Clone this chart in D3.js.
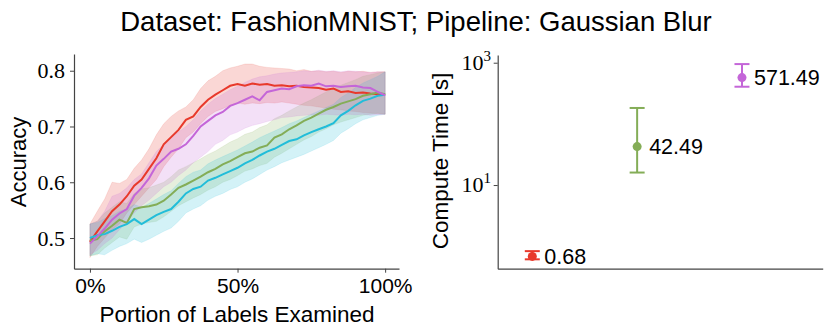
<!DOCTYPE html>
<html lang="en">
  <head>
    <meta charset="UTF-8" />
    <title>FashionMNIST - Gaussian Blur</title>
    <script src="https://d3js.org/d3.v7.min.js"></script>
    <style>
      * {
        margin: 0;
        padding: 0;
      }
      body {
        background: #fff;
      }
      .domain {
        stroke: #444;
        stroke-width: 1.2;
      }
      .tick line {
        stroke: #444;
        stroke-width: 1;
      }
    </style>
  </head>
  <body>
    <div id="svgContainer"></div>
    <script>
      // x positions (portion of labels examined)
      const portion = d3.range(41).map((i) => i * 0.025);

      // mean accuracy per method
      const redMean = [0.493, 0.512, 0.53, 0.548, 0.56, 0.575, 0.594, 0.605, 0.624, 0.643, 0.668, 0.681, 0.694, 0.712, 0.718, 0.735, 0.748, 0.757, 0.765, 0.773, 0.776, 0.773, 0.777, 0.775, 0.776, 0.773, 0.774, 0.772, 0.773, 0.771, 0.77, 0.769, 0.766, 0.768, 0.762, 0.763, 0.76, 0.761, 0.759, 0.758, 0.757];
      const redHi = [0.525, 0.548, 0.57, 0.6, 0.598, 0.605, 0.625, 0.64, 0.66, 0.685, 0.705, 0.718, 0.728, 0.735, 0.748, 0.768, 0.782, 0.79, 0.8, 0.805, 0.808, 0.812, 0.812, 0.808, 0.806, 0.805, 0.804, 0.803, 0.8, 0.802, 0.799, 0.8, 0.798, 0.799, 0.797, 0.799, 0.798, 0.799, 0.797, 0.798, 0.798];
      const redLo = [0.465, 0.485, 0.5, 0.515, 0.525, 0.545, 0.56, 0.575, 0.59, 0.605, 0.628, 0.645, 0.66, 0.68, 0.69, 0.705, 0.718, 0.727, 0.732, 0.738, 0.742, 0.74, 0.742, 0.741, 0.743, 0.742, 0.744, 0.742, 0.74, 0.738, 0.737, 0.735, 0.733, 0.731, 0.73, 0.728, 0.727, 0.725, 0.724, 0.723, 0.722];

      const purpleMean = [0.49, 0.503, 0.517, 0.533, 0.544, 0.552, 0.576, 0.59, 0.607, 0.63, 0.642, 0.655, 0.66, 0.668, 0.683, 0.7, 0.71, 0.72, 0.726, 0.737, 0.742, 0.748, 0.754, 0.747, 0.762, 0.765, 0.768, 0.767, 0.772, 0.774, 0.773, 0.777, 0.772, 0.773, 0.771, 0.772, 0.773, 0.77, 0.769, 0.762, 0.756];
      const purpleHi = [0.525, 0.53, 0.548, 0.575, 0.58, 0.59, 0.605, 0.615, 0.635, 0.655, 0.668, 0.682, 0.69, 0.7, 0.712, 0.728, 0.74, 0.75, 0.758, 0.766, 0.772, 0.779, 0.785, 0.789, 0.791, 0.794, 0.796, 0.797, 0.798, 0.8, 0.799, 0.801, 0.799, 0.8, 0.798, 0.8, 0.799, 0.798, 0.797, 0.798, 0.798];
      const purpleLo = [0.47, 0.478, 0.49, 0.5, 0.515, 0.53, 0.545, 0.558, 0.568, 0.58, 0.592, 0.6, 0.612, 0.622, 0.635, 0.645, 0.655, 0.668, 0.675, 0.685, 0.69, 0.697, 0.702, 0.705, 0.709, 0.712, 0.716, 0.717, 0.719, 0.72, 0.721, 0.72, 0.722, 0.721, 0.72, 0.722, 0.721, 0.722, 0.72, 0.721, 0.722];

      const greenMean = [0.495, 0.498, 0.512, 0.522, 0.533, 0.527, 0.552, 0.555, 0.557, 0.56, 0.567, 0.578, 0.59, 0.596, 0.603, 0.61, 0.618, 0.624, 0.632, 0.638, 0.645, 0.652, 0.655, 0.662, 0.666, 0.68, 0.686, 0.695, 0.702, 0.71, 0.716, 0.723, 0.73, 0.735, 0.741, 0.745, 0.749, 0.755, 0.758, 0.761, 0.758];
      const greenHi = [0.525, 0.53, 0.545, 0.555, 0.565, 0.562, 0.58, 0.588, 0.59, 0.595, 0.6, 0.61, 0.622, 0.628, 0.635, 0.642, 0.65, 0.656, 0.664, 0.672, 0.678, 0.686, 0.69, 0.698, 0.703, 0.714, 0.72, 0.728, 0.735, 0.742, 0.748, 0.755, 0.762, 0.768, 0.774, 0.779, 0.784, 0.79, 0.793, 0.796, 0.798];
      const greenLo = [0.468, 0.47, 0.482, 0.492, 0.502, 0.498, 0.52, 0.525, 0.528, 0.53, 0.538, 0.548, 0.558, 0.565, 0.572, 0.578, 0.586, 0.592, 0.6, 0.605, 0.612, 0.62, 0.624, 0.63, 0.634, 0.645, 0.652, 0.66, 0.668, 0.676, 0.682, 0.69, 0.696, 0.703, 0.708, 0.712, 0.716, 0.72, 0.722, 0.724, 0.722];

      const cyanMean = [0.5, 0.505, 0.507, 0.513, 0.52, 0.525, 0.534, 0.525, 0.533, 0.541, 0.547, 0.552, 0.565, 0.58, 0.588, 0.592, 0.603, 0.608, 0.614, 0.62, 0.626, 0.634, 0.64, 0.648, 0.655, 0.66, 0.667, 0.674, 0.677, 0.684, 0.69, 0.695, 0.7, 0.706, 0.72, 0.728, 0.738, 0.746, 0.75, 0.755, 0.757];
      const cyanHi = [0.525, 0.528, 0.535, 0.54, 0.548, 0.552, 0.56, 0.555, 0.562, 0.57, 0.578, 0.585, 0.598, 0.61, 0.618, 0.622, 0.633, 0.64, 0.646, 0.652, 0.658, 0.665, 0.672, 0.68, 0.686, 0.692, 0.698, 0.705, 0.71, 0.716, 0.722, 0.728, 0.734, 0.74, 0.752, 0.76, 0.77, 0.778, 0.784, 0.79, 0.798];
      const cyanLo = [0.468, 0.472, 0.47, 0.478, 0.485, 0.49, 0.498, 0.492, 0.498, 0.505, 0.512, 0.518, 0.53, 0.545, 0.552, 0.558, 0.568, 0.575, 0.58, 0.587, 0.592, 0.6, 0.606, 0.614, 0.622, 0.628, 0.635, 0.64, 0.645, 0.65, 0.656, 0.662, 0.668, 0.675, 0.688, 0.696, 0.705, 0.712, 0.716, 0.72, 0.722];

      // compute time (seconds) for three methods
      const timeMethods = ["red", "green", "purple"];
      const timeMean = [0.68, 42.49, 571.49];
      const timeLo = [0.61, 16, 405];
      const timeHi = [0.83, 182, 950];

      const xTicks = [0, 0.5, 1];
      const xTickLabels = ["0%", "50%", "100%"];
      const yTicks = [0.5, 0.6, 0.7, 0.8];
      const logTicks = [10, 1000];

      const colors = {
        red: "#e8392b",
        purple: "#c466d8",
        green: "#84ad57",
        cyan: "#22bdd9",
      };

      const series = [
        { key: "red", mean: redMean, lo: redLo, hi: redHi },
        { key: "green", mean: greenMean, lo: greenLo, hi: greenHi },
        { key: "cyan", mean: cyanMean, lo: cyanLo, hi: cyanHi },
        { key: "purple", mean: purpleMean, lo: purpleLo, hi: purpleHi },
      ];

      const width = 831;
      const height = 336;
      const sansFont = "'Liberation Sans', Arial, sans-serif";
      const serifFont = "'Liberation Serif', 'DejaVu Serif', serif";

      let svg = d3
        .select("#svgContainer")
        .append("svg")
        .attr("width", width)
        .attr("height", height);

      // title
      svg
        .append("text")
        .attr("x", 416)
        .attr("y", 31)
        .attr("text-anchor", "middle")
        .style("font-family", sansFont)
        .style("font-size", "27.5px")
        .text("Dataset: FashionMNIST; Pipeline: Gaussian Blur");

      /* ---------- left panel: accuracy curves ---------- */
      const xScale = d3.scaleLinear().domain([-0.054, 1.047]).range([74, 399]);
      const yScale = d3.scaleLinear().domain([0.445, 0.83]).range([268.7, 54]);

      let left = svg.append("g");

      const area = d3
        .area()
        .x((d) => xScale(d.t))
        .y0((d) => yScale(d.lo))
        .y1((d) => yScale(d.hi));

      const line = d3
        .line()
        .x((d) => xScale(d.t))
        .y((d) => yScale(d.m));

      series.forEach((s) => {
        let pts = portion.map((t, i) => ({
          t: t,
          m: s.mean[i],
          lo: s.lo[i],
          hi: s.hi[i],
        }));
        left
          .append("path")
          .datum(pts)
          .attr("d", area)
          .attr("fill", colors[s.key])
          .attr("fill-opacity", 0.2)
          .attr("stroke", colors[s.key])
          .attr("stroke-opacity", 0.15)
          .attr("stroke-width", 0.8);
      });
      series.forEach((s) => {
        let pts = portion.map((t, i) => ({ t: t, m: s.mean[i] }));
        left
          .append("path")
          .datum(pts)
          .attr("d", line)
          .attr("fill", "none")
          .attr("stroke", colors[s.key])
          .attr("stroke-width", 2);
      });

      let xAxisG = left
        .append("g")
        .attr("transform", "translate(0,268.7)")
        .call(
          d3
            .axisBottom(xScale)
            .tickValues(xTicks)
            .tickFormat((d, i) => xTickLabels[i])
            .tickSize(4)
            .tickSizeOuter(0)
            .tickPadding(5)
        );
      xAxisG
        .selectAll("text")
        .style("font-family", sansFont)
        .style("font-size", "21px")
        .attr("fill", "#000");

      let yAxisG = left
        .append("g")
        .attr("transform", "translate(74,0)")
        .call(
          d3
            .axisLeft(yScale)
            .tickValues(yTicks)
            .tickFormat(d3.format(".1f"))
            .tickSize(4)
            .tickSizeOuter(0)
            .tickPadding(5)
        );
      yAxisG
        .selectAll("text")
        .style("font-family", serifFont)
        .style("font-size", "22px")
        .attr("fill", "#000");

      svg
        .append("text")
        .attr("x", 237)
        .attr("y", 322)
        .attr("text-anchor", "middle")
        .style("font-family", sansFont)
        .style("font-size", "22.5px")
        .text("Portion of Labels Examined");

      svg
        .append("text")
        .attr("transform", "translate(26,162) rotate(-90)")
        .attr("text-anchor", "middle")
        .style("font-family", sansFont)
        .style("font-size", "22px")
        .text("Accuracy");

      /* ---------- right panel: compute time ---------- */
      const xCat = d3.scaleLinear().domain([-0.33, 2.77]).range([497.7, 822.7]);
      const yLog = d3.scaleLog().domain([0.4285, 1337]).range([268.7, 55]);

      let right = svg.append("g");

      let rAxisX = right
        .append("g")
        .attr("transform", "translate(0,268.7)")
        .call(d3.axisBottom(xCat).tickValues([]).tickSizeOuter(0));

      let rAxisY = right
        .append("g")
        .attr("transform", "translate(497.7,0)")
        .call(
          d3
            .axisLeft(yLog)
            .tickValues(logTicks)
            .tickFormat("")
            .tickSize(4)
            .tickSizeOuter(0)
        );

      // 10^n labels
      logTicks.forEach((v) => {
        let t = right
          .append("text")
          .attr("x", 491)
          .attr("y", yLog(v) + 7)
          .attr("text-anchor", "end")
          .style("font-family", serifFont)
          .style("font-size", "22px");
        t.append("tspan").text("10");
        t.append("tspan")
          .attr("dy", -9)
          .style("font-size", "15px")
          .text(Math.round(Math.log10(v)));
      });

      let pointG = right
        .selectAll("g.pt")
        .data(timeMethods)
        .join("g")
        .attr("class", "pt");

      pointG
        .append("line")
        .attr("x1", (d, i) => xCat(i))
        .attr("x2", (d, i) => xCat(i))
        .attr("y1", (d, i) => yLog(timeLo[i]))
        .attr("y2", (d, i) => yLog(timeHi[i]))
        .attr("stroke", (d) => colors[d])
        .attr("stroke-width", 2);

      [timeLo, timeHi].forEach((arr) => {
        pointG
          .append("line")
          .attr("x1", (d, i) => xCat(i) - 7.5)
          .attr("x2", (d, i) => xCat(i) + 7.5)
          .attr("y1", (d, i) => yLog(arr[i]))
          .attr("y2", (d, i) => yLog(arr[i]))
          .attr("stroke", (d) => colors[d])
          .attr("stroke-width", 2);
      });

      pointG
        .append("circle")
        .attr("cx", (d, i) => xCat(i))
        .attr("cy", (d, i) => yLog(timeMean[i]))
        .attr("r", 4.5)
        .attr("fill", (d) => colors[d]);

      pointG
        .append("text")
        .attr("x", (d, i) => xCat(i) + 12)
        .attr("y", (d, i) => yLog(timeMean[i]) + 7.5)
        .style("font-family", sansFont)
        .style("font-size", "21.5px")
        .text((d, i) => timeMean[i].toFixed(2));

      svg
        .append("text")
        .attr("transform", "translate(448,161) rotate(-90)")
        .attr("text-anchor", "middle")
        .style("font-family", sansFont)
        .style("font-size", "22.5px")
        .text("Compute Time [s]");
    </script>
  </body>
</html>
